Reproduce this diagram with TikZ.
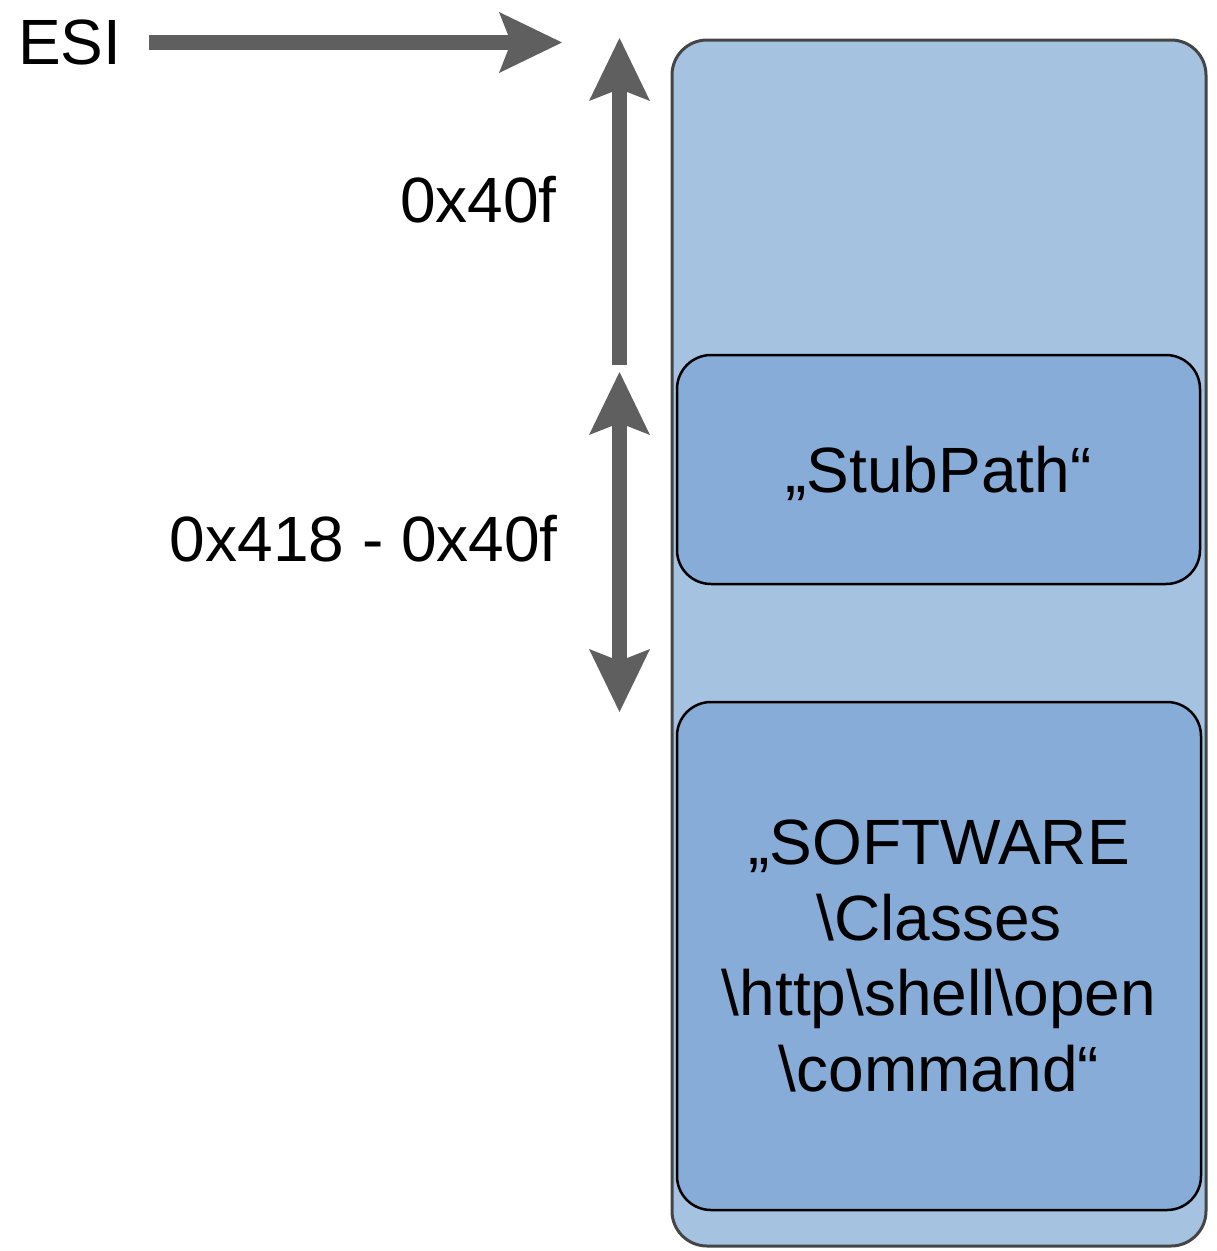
\documentclass[tikz,border=0pt]{standalone}
\usepackage{fontspec}
\setmainfont{Liberation Sans}
\usetikzlibrary{arrows.meta}

\definecolor{arrowgray}{HTML}{5F5F5F}
\definecolor{memfill}{HTML}{A6C2E1}
\definecolor{memedge}{HTML}{454545}
\definecolor{strfill}{HTML}{87ACD7}

\tikzset{
  bigfont/.style={font=\fontsize{64}{75.5}\selectfont},
  fattip/.tip={Stealth[length=63pt,width=61pt,inset=12pt,line width=0pt]},
  bigarrow/.style={draw=arrowgray, fill=arrowgray, line width=15pt, line cap=butt},
  membox/.style={draw=memedge, fill=memfill, line width=3pt, rounded corners=35pt,
    inner sep=0pt},
  strbox/.style={draw=black, fill=strfill, line width=2.5pt, rounded corners=34pt,
    inner sep=0pt, bigfont, align=center},
}

\begin{document}
\begin{tikzpicture}[x=1pt, y=-1pt]
  \useasboundingbox (0,0) rectangle (1217,1251);

  % memory region and the two strings stored in it
  \node[membox, minimum width=534pt, minimum height=1206pt] (mem) at (939,643) {};
  \node[strbox, minimum width=523pt, minimum height=229pt,
        text height=46pt, text depth=0pt] (stub) at (938.5,469.5) {„StubPath“};
  \node[strbox, minimum width=524pt, minimum height=508pt] (softw) at (939,956)
    {„SOFTWARE\\\textbackslash Classes\\\textbackslash http\textbackslash shell\textbackslash open\\\textbackslash command“};

  % register pointer
  \node[bigfont, anchor=base west, inner sep=0pt] (esi) at (18,64) {ESI};
  \coordinate (esiStart) at (149,42.5);
  \coordinate (esiTip) at (562,42.5);
  \draw[bigarrow, -{fattip}] (esiStart) -- (esiTip);

  % offset markers
  \coordinate (offBase) at (619.5,365);
  \coordinate (offTop) at (619.5,38);
  \coordinate (spanTop) at (619.5,372);
  \coordinate (spanBot) at (619.5,712);
  \draw[bigarrow, -{fattip}] (offBase) -- (offTop);
  \draw[bigarrow, {fattip}-{fattip}] (spanTop) -- (spanBot);

  \node[bigfont, anchor=base east, inner sep=0pt] (off1) at (557,222) {0x40f};
  \node[bigfont, anchor=base east, inner sep=0pt] (off2) at (558,561) {0x418 - 0x40f};
\end{tikzpicture}
\end{document}
